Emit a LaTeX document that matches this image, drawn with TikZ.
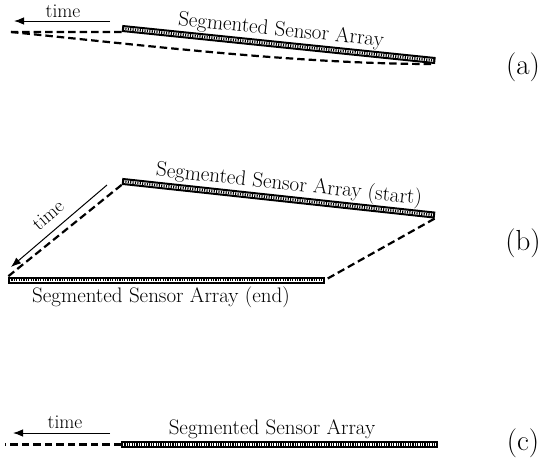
\documentclass[tikz,border=0pt]{standalone}
\usepackage{fontspec}
\usetikzlibrary{arrows.meta}
\tikzset{
  bar/.style={draw, line width=2pt, fill=white, minimum height=5pt, inner sep=0pt},
  ticks/.style={line width=2.6pt, dash pattern=on 1.1pt off 1.3pt, shorten >=1pt, shorten <=1pt},
  dsh/.style={line width=2.2pt, dash pattern=on 7.5pt off 4pt},
  tarrow/.style={line width=1pt, -{Latex[length=10pt,width=7.5pt]}},
  lbl/.style={inner sep=0pt, font=\fontsize{21}{25}\selectfont},
  tlbl/.style={inner sep=0pt, font=\fontsize{19.5}{23}\selectfont},
  tag/.style={inner sep=0pt, font=\fontsize{29}{34}\selectfont}
}
\begin{document}
\begin{tikzpicture}[x=1pt,y=-1pt]
\useasboundingbox (0,0) rectangle (547,459);
% ---------- (a)
\node[bar, minimum width=313pt, rotate=-5.85] (barA) at (278.7,44.5) {};
\draw[ticks] (barA.west) -- (barA.east);
\coordinate (aL) at (11,32);
\draw[dsh] (barA.south west) -- (aL);
\draw[dsh] (aL) .. controls (150,46) and (300,64) .. (barA.south east);
\coordinate (aT1) at (110,21);
\coordinate (aT2) at (14,21);
\draw[tarrow] (aT1) -- (aT2);
\node[tlbl] (aTime) at (63,11) {time};
\node[lbl, rotate=-5.85] (aLbl) at (281,30.5) {Segmented Sensor Array};
\node[tag] (tagA) at (523,67) {(a)};
% ---------- (b)
\node[bar, minimum width=312.8pt, rotate=-6.15] (barBs) at (278.5,198.25) {};
\draw[ticks] (barBs.west) -- (barBs.east);
\node[bar, minimum width=315pt] (barBe) at (166.5,280) {};
\draw[ticks] (barBe.west) -- (barBe.east);
\draw[dsh] (barBs.south west) -- (barBe.north west);
\draw[dsh] (barBs.south east) -- (barBe.east);
\coordinate (bT1) at (107,185);
\coordinate (bT2) at (11,267);
\draw[tarrow] (bT1) -- (bT2);
\node[tlbl, rotate=40.5] (bTime) at (48,215) {time};
\node[lbl, rotate=-6.15] (bLblS) at (289,185) {Segmented Sensor Array (start)};
\node[lbl] (bLblE) at (161,297) {Segmented Sensor Array (end)};
\node[tag] (tagB) at (523,243) {(b)};
% ---------- (c)
\node[bar, minimum width=315pt] (barC) at (279.5,444.5) {};
\draw[ticks] (barC.west) -- (barC.east);
\coordinate (cL) at (5,444.5);
\draw[dsh] (barC.west) -- (cL);
\coordinate (cT1) at (110,433);
\coordinate (cT2) at (13,433);
\draw[tarrow] (cT1) -- (cT2);
\node[tlbl] (cTime) at (65,422) {time};
\node[lbl] (cLbl) at (272,429) {Segmented Sensor Array};
\node[tag] (tagC) at (523,443) {(c)};
\end{tikzpicture}
\end{document}
